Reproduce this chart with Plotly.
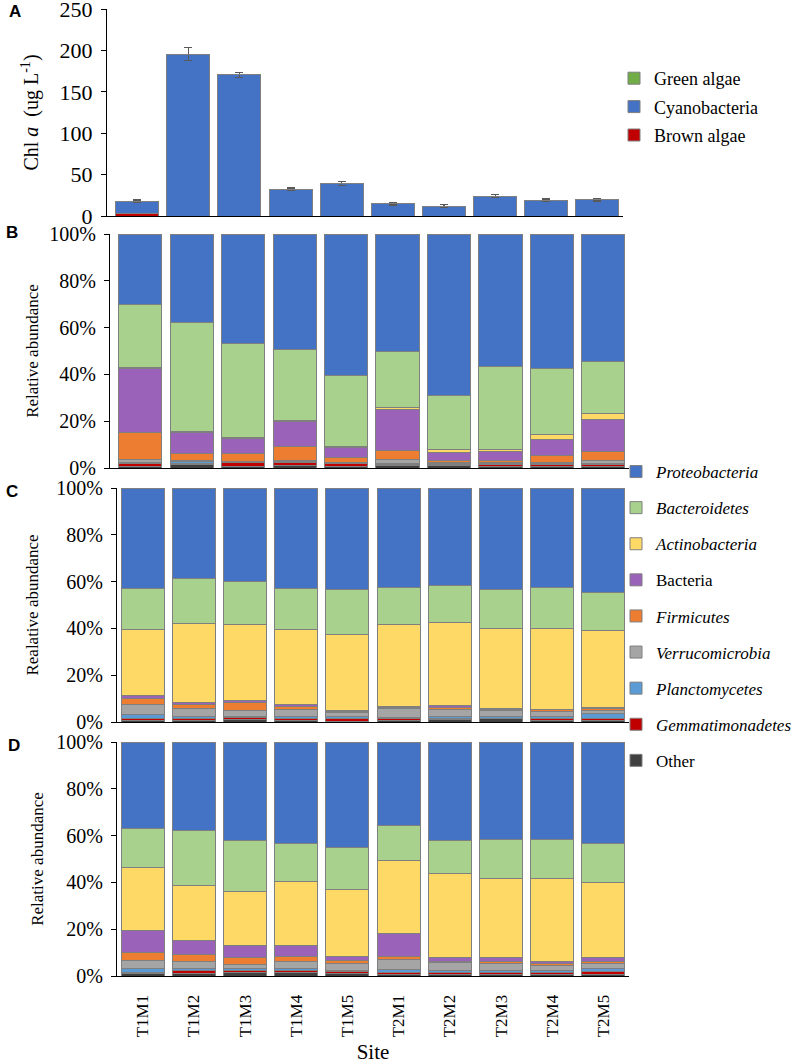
import plotly.graph_objects as go

sites = ["T1M1", "T1M2", "T1M3", "T1M4", "T1M5", "T2M1", "T2M2", "T2M3", "T2M4", "T2M5"]

# panel A, Chl a (ug/L)
chl_brown = [3.0, 0, 0, 0, 0, 0, 0, 0, 0, 0]
chl_cyano = [15.0, 195.5, 170.5, 32.5, 39.5, 14.5, 12.0, 24.0, 19.0, 19.5]
chl_green = [0, 0, 0, 0, 0, 0.6, 0, 0, 0, 0]
chl_err = [1.5, 8.0, 3.0, 1.5, 2.5, 1.2, 1.5, 2.0, 1.5, 1.5]

# panel B, relative abundance (%)
b_other = [0.8, 1.5, 0.8, 1.0, 0.5, 0.9, 0.9, 0.6, 0.6, 0.8]
b_gemma = [1.0, 0.6, 1.4, 1.2, 1.4, 0.6, 0.5, 1.0, 1.0, 0.5]
b_plancto = [0.7, 0.5, 0.3, 0.5, 0.3, 0.6, 0.6, 0.4, 0.5, 0.8]
b_verruco = [1.3, 0.4, 0.2, 0.3, 0.3, 1.4, 0.4, 0.3, 0.4, 0.9]
b_firmi = [11.2, 3.0, 3.3, 6.0, 1.9, 4.0, 0.9, 0.7, 3.0, 4.2]
b_bacteria = [27.5, 9.0, 6.5, 11.0, 4.4, 17.3, 3.5, 4.0, 6.8, 13.6]
b_actino = [0.5, 0.5, 0.4, 0.4, 0.5, 0.9, 1.2, 1.0, 2.2, 2.5]
b_bacteroid = [27.0, 46.5, 40.1, 30.1, 30.2, 24.3, 23.0, 35.5, 28.0, 22.2]
b_proteo = [30.0, 38.0, 47.0, 49.5, 60.5, 50.0, 69.0, 56.5, 57.5, 54.5]

# panel C
c_other = [0.8, 0.5, 1.2, 0.7, 0.4, 0.5, 0.9, 1.3, 0.5, 0.8]
c_gemma = [0.9, 1.2, 0.6, 0.8, 1.2, 1.0, 0.5, 0.3, 1.2, 0.7]
c_plancto = [1.3, 0.8, 0.7, 1.0, 0.9, 0.5, 0.8, 0.6, 0.5, 2.0]
c_verruco = [4.5, 3.3, 2.5, 2.9, 1.5, 3.8, 3.0, 2.7, 2.5, 1.5]
c_firmi = [2.5, 1.8, 3.3, 1.2, 0.6, 0.6, 1.2, 0.6, 0.5, 0.7]
c_bacteria = [1.2, 0.7, 1.1, 1.0, 0.4, 0.4, 0.6, 0.3, 0.3, 0.5]
c_actino = [28.3, 33.7, 32.1, 31.9, 32.5, 34.7, 35.5, 34.2, 34.5, 32.8]
c_bacteroid = [17.5, 19.5, 18.5, 17.5, 19.0, 16.0, 16.0, 16.5, 17.5, 16.5]
c_proteo = [43.0, 38.5, 40.0, 43.0, 43.5, 42.5, 41.5, 43.5, 42.5, 44.5]

# panel D
d_other = [0.9, 1.2, 1.3, 1.4, 1.0, 0.8, 0.7, 0.7, 0.7, 0.8]
d_gemma = [0.8, 1.2, 1.2, 1.0, 0.8, 0.5, 0.8, 0.8, 0.8, 1.2]
d_plancto = [1.3, 0.6, 0.5, 0.6, 0.7, 1.3, 1.0, 0.7, 1.0, 1.3]
d_verruco = [3.8, 3.0, 2.1, 3.3, 3.0, 4.6, 3.1, 3.0, 2.0, 2.1]
d_firmi = [3.2, 3.4, 2.9, 2.2, 1.0, 1.0, 0.8, 0.8, 0.8, 0.8]
d_bacteria = [9.6, 5.6, 5.0, 4.7, 1.8, 9.8, 1.7, 1.7, 1.1, 1.9]
d_actino = [26.9, 23.5, 23.0, 27.3, 28.7, 31.5, 35.9, 33.8, 35.1, 31.9]
d_bacteroid = [16.5, 23.5, 22.0, 16.0, 18.0, 15.0, 14.0, 17.0, 17.0, 16.5]
d_proteo = [37.0, 38.0, 42.0, 43.5, 45.0, 35.5, 42.0, 41.5, 41.5, 43.5]

taxa = ["Other", "<i>Gemmatimonadetes</i>", "<i>Planctomycetes</i>", "<i>Verrucomicrobia</i>",
        "<i>Firmicutes</i>", "Bacteria", "<i>Actinobacteria</i>", "<i>Bacteroidetes</i>",
        "<i>Proteobacteria</i>"]
taxa_colors = ["#404040", "#C00000", "#5B9BD5", "#A5A5A5", "#ED7D31", "#9A62B8",
               "#FFD966", "#A9D18E", "#4472C4"]

panels = [
    ("x2", "y2", [b_other, b_gemma, b_plancto, b_verruco, b_firmi, b_bacteria, b_actino, b_bacteroid, b_proteo]),
    ("x3", "y3", [c_other, c_gemma, c_plancto, c_verruco, c_firmi, c_bacteria, c_actino, c_bacteroid, c_proteo]),
    ("x4", "y4", [d_other, d_gemma, d_plancto, d_verruco, d_firmi, d_bacteria, d_actino, d_bacteroid, d_proteo]),
]

SERIF = "Liberation Serif, Times New Roman, serif"
outline = dict(color="#7f7f7f", width=1)

fig = go.Figure()

# panel A (legend shows green on top, brown at bottom)
fig.add_trace(go.Bar(x=sites, y=chl_brown, name="Brown algae", marker=dict(color="#C00000", line=outline),
                     xaxis="x", yaxis="y", legend="legend", legendgroup="brown", legendrank=3))
fig.add_trace(go.Bar(x=sites, y=chl_cyano, name="Cyanobacteria", marker=dict(color="#4472C4", line=outline),
                     error_y=dict(type="data", array=chl_err, color="#595959", thickness=1.3, width=4),
                     xaxis="x", yaxis="y", legend="legend", legendgroup="cyano", legendrank=2))
fig.add_trace(go.Bar(x=sites, y=chl_green, name="Green algae", marker=dict(color="#70AD47", line=outline),
                     xaxis="x", yaxis="y", legend="legend", legendgroup="green", legendrank=1))

# panels B-D
for i, (xa, ya, layers) in enumerate(panels):
    for k, (name, col, vals) in enumerate(zip(taxa, taxa_colors, layers)):
        fig.add_trace(go.Bar(x=sites, y=vals, name=name, marker=dict(color=col, line=outline),
                             xaxis=xa, yaxis=ya, legend="legend2", legendgroup=name,
                             legendrank=100 - k, showlegend=(i == 0)))

def px_y(p):
    return 1 - p / 1064

def px_x(p):
    return p / 798

tickfont = dict(family=SERIF, size=20, color="black")
xcommon = dict(type="category", showline=True, linecolor="black", linewidth=1, ticks="",
               showgrid=False, zeroline=False, automargin=False)
ycommon = dict(showline=True, linecolor="black", linewidth=1, ticks="outside", ticklen=5,
               tickcolor="black", showgrid=False, zeroline=False, tickfont=tickfont, automargin=False,
               ticklabeloverflow="allow")

fig.update_layout(
    width=798, height=1064,
    margin=dict(l=0, r=0, t=0, b=0),
    paper_bgcolor="white", plot_bgcolor="white",
    barmode="stack", bargap=0.16,
    font=dict(family=SERIF, color="black"),
    xaxis=dict(xcommon, domain=[px_x(107), px_x(623)], range=[-0.59, 9.5], anchor="y", showticklabels=False),
    xaxis2=dict(xcommon, domain=[px_x(110), px_x(629)], range=[-0.59, 9.5], anchor="y2", showticklabels=False),
    xaxis3=dict(xcommon, domain=[px_x(117), px_x(629)], range=[-0.5, 9.5], anchor="y3", showticklabels=False),
    xaxis4=dict(xcommon, domain=[px_x(117), px_x(629)], range=[-0.5, 9.5], anchor="y4",
                tickangle=-90, tickfont=dict(family=SERIF, size=17, color="black"), ticklabelstandoff=11,
                ticklabeloverflow="allow",
                title=dict(text="Site", font=dict(family=SERIF, size=21), standoff=9)),
    yaxis=dict(ycommon, domain=[px_y(216), px_y(9)], range=[0, 250], dtick=50, anchor="x",
               tickfont=dict(family=SERIF, size=22, color="black"), ticklabelstandoff=4,
               title=dict(text="Chl <i>a</i>  (ug L<sup>-1</sup>)", font=dict(family=SERIF, size=20), standoff=15)),
    yaxis2=dict(ycommon, domain=[px_y(468), px_y(234)], range=[0, 100], dtick=20, ticksuffix="%", anchor="x2",
                ticklabelstandoff=4,
                title=dict(text="Relative abundance", font=dict(family=SERIF, size=17), standoff=6)),
    yaxis3=dict(ycommon, domain=[px_y(722), px_y(488)], range=[0, 100], dtick=20, ticksuffix="%", anchor="x3",
                ticklabelstandoff=4,
                title=dict(text="Realative abundance", font=dict(family=SERIF, size=17), standoff=13)),
    yaxis4=dict(ycommon, domain=[px_y(976), px_y(742)], range=[0, 100], dtick=20, ticksuffix="%", anchor="x4",
                ticklabelstandoff=4,
                title=dict(text="Relative abundance", font=dict(family=SERIF, size=17), standoff=8)),
    legend=dict(x=px_x(614), y=px_y(60), xanchor="left", yanchor="top", traceorder="grouped",
                tracegroupgap=2, font=dict(family=SERIF, size=18), bgcolor="rgba(0,0,0,0)"),
    legend2=dict(x=px_x(616), y=px_y(454), xanchor="left", yanchor="top", traceorder="grouped",
                 tracegroupgap=11, font=dict(family=SERIF, size=17), bgcolor="rgba(0,0,0,0)"),
)

for letter, xp, yp in [("A", 15, 12), ("B", 12, 232), ("C", 12, 492), ("D", 14, 745)]:
    fig.add_annotation(text="<b>%s</b>" % letter, x=px_x(xp), y=px_y(yp), xref="paper", yref="paper",
                       showarrow=False, xanchor="center", yanchor="middle",
                       font=dict(family="Liberation Sans, Arial, sans-serif", size=17, color="black"))

# drop the default page margin so the figure sits at the window's corner
fig.write_html("out.html", config={"displayModeBar": False},
               post_script="document.body.style.margin='0';")
